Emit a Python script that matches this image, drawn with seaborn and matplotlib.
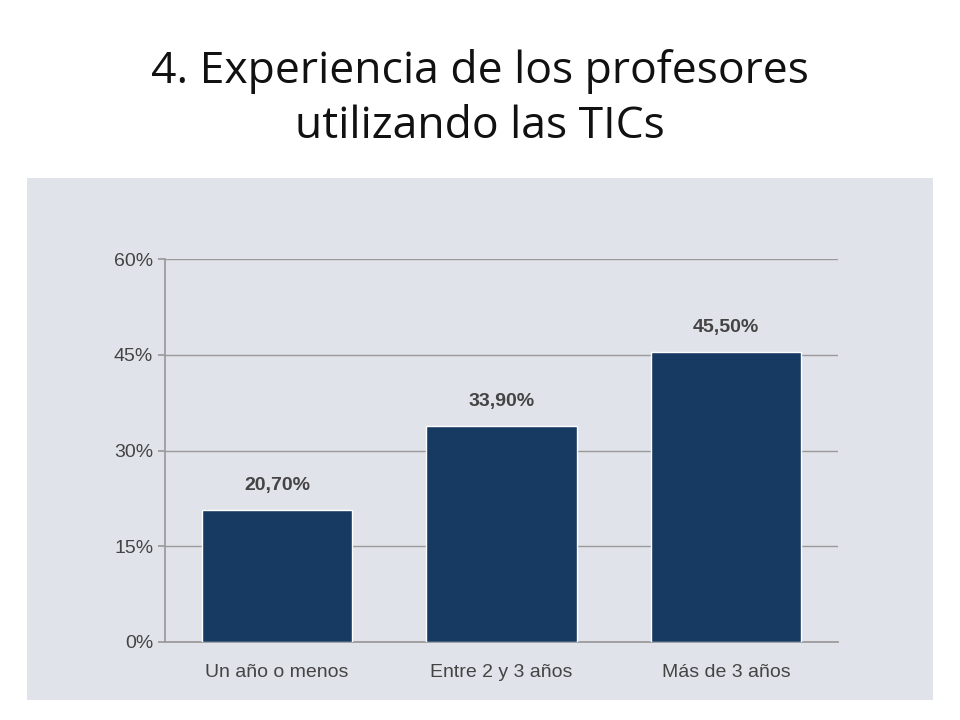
import matplotlib
matplotlib.use("Agg")
import matplotlib.pyplot as plt
import seaborn as sns
import pandas as pd

categories = ["Un año o menos", "Entre 2 y 3 años", "Más de 3 años"]
values = [20.7, 33.9, 45.5]
labels = ["20,70%", "33,90%", "45,50%"]
yticks = [0, 15, 30, 45, 60]
ytick_labels = ["0%", "15%", "30%", "45%", "60%"]

sns.set_theme(style="white")
plt.rcParams['font.family'] = ['Liberation Sans', 'DejaVu Sans']

fig = plt.figure(figsize=(9.6, 7.2), dpi=100)
fig.patch.set_facecolor("white")
bg = fig.add_axes([27/960, 1-700/720, 906/960, 522/720], zorder=-1)
bg.set_facecolor("#e0e3e9")
bg.set_xticks([]); bg.set_yticks([])
for s in bg.spines.values():
    s.set_visible(False)

fig.text(0.5, 1-72/720, "4. Experiencia de los profesores", ha="center", va="center",
         fontsize=32, family=["Open Sans", "DejaVu Sans"], color="#111111")
fig.text(0.5, 1-127/720, "utilizando las TICs", ha="center", va="center",
         fontsize=32, family=["Open Sans", "DejaVu Sans"], color="#111111")

ax = fig.add_axes([165/960, 1-642/720, 673/960, 383/720], zorder=1)
ax.set_facecolor("none")
df = pd.DataFrame({"cat": categories, "val": values})
sns.barplot(data=df, x="cat", y="val", color="#173a63", saturation=1, width=0.67, ax=ax, zorder=3)
ax.set_xlim(-0.5, 2.5)
ax.set_ylim(0, 60)
ax.set_yticks(yticks)
ax.set_yticklabels(ytick_labels)
ax.yaxis.grid(True, color="#9a9a9a", linewidth=1)
ax.set_axisbelow(True)
ax.set_xlabel("")
ax.set_ylabel("")
for s in ["top", "right"]:
    ax.spines[s].set_visible(False)
ax.spines["left"].set_color("#9a9a9a")
ax.spines["bottom"].set_color("#9a9a9a")
ax.tick_params(axis="y", left=True, length=5, color="#9a9a9a", labelsize=14, labelcolor="#444444")
ax.tick_params(axis="x", bottom=False, labelsize=14, labelcolor="#444444", pad=10)
for i, (v, l) in enumerate(zip(values, labels)):
    ax.text(i, v + 2.5, l, ha="center", va="bottom", fontsize=14, fontweight="bold", color="#444444")

fig.savefig("out.png", dpi=100)
